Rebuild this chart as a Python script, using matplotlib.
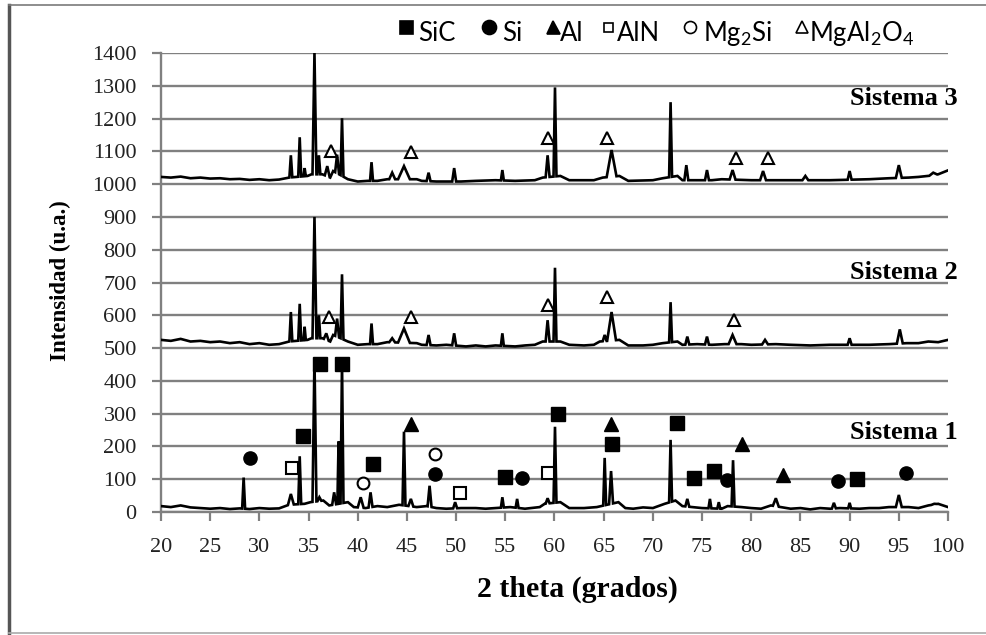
import matplotlib
matplotlib.use('Agg')
import matplotlib.pyplot as plt
import numpy as np
from matplotlib.lines import Line2D

plt.rcParams['font.family'] = ['Liberation Serif', 'DejaVu Serif']
plt.rcParams['mathtext.default'] = 'regular'

# ── data ──────────────────────────────────────────────────────────────────────
# Sistema 1
s1_base_x = [20, 21, 22, 23, 24, 25, 26, 27, 28, 29, 30, 31, 32, 33, 34.6, 35.2, 36.5,
             37.1, 39.0, 39.6, 40.8, 42, 43, 44.2, 46, 47, 48, 49, 50.5, 52, 53, 54,
             55.5, 57, 58.5, 59.0, 60.6, 61.5, 63, 64.3, 66.5, 67.2, 68, 69, 70, 71.2,
             72.3, 73, 74, 75, 77, 77.6, 79, 80, 81, 82, 83, 84, 85, 86, 87, 88, 89,
             91, 92, 93, 94, 96, 97, 98, 99, 100]
s1_base_y = [18, 15, 20, 14, 12, 10, 12, 9, 11, 9, 12, 10, 11, 22, 25, 30, 35,
             20, 30, 15, 12, 18, 15, 22, 15, 18, 12, 10, 12, 12, 10, 12,
             15, 10, 15, 25, 30, 12, 12, 15, 30, 12, 10, 14, 12, 25,
             35, 18, 15, 12, 10, 18, 15, 12, 10, 20, 15, 10, 12, 8, 12, 10, 12,
             10, 12, 12, 15, 15, 12, 20, 25, 15]
s1_pk_x = [28.4, 33.2, 34.1, 35.6, 36.1, 37.6, 38.05, 38.4, 40.3, 41.3, 44.7, 45.4,
           47.3, 49.9, 54.7, 56.2, 59.3, 60.05, 65.1, 65.75, 71.8, 73.5, 75.8, 76.7,
           78.15, 82.5, 88.4, 90.0, 95.0, 98.6]
s1_pk_y = [105, 55, 170, 470, 45, 60, 215, 460, 45, 60, 245, 40,
           80, 30, 45, 40, 42, 260, 165, 125, 220, 40, 40, 30,
           158, 42, 28, 28, 52, 25]
s1_pk_w = [.15, .3, .15, .2, .2, .2, .12, .15, .3, .2, .15, .25,
           .2, .2, .15, .15, .2, .15, .15, .2, .15, .2, .15, .15,
           .15, .3, .2, .15, .3, .3]

# Sistema 2
s2_base_x = [20, 21, 22, 23, 24, 25, 26, 27, 28, 29, 30, 31, 32, 33, 34.9, 35.3, 36.4,
             37.2, 37.5, 39, 40, 41, 42, 43, 46, 46.5, 48, 49, 51, 52, 53, 54, 56, 57,
             58, 58.8, 60.6, 61.5, 63, 64, 64.6, 66.6, 67.5, 69, 70, 71, 72.5, 73,
             74.5, 76, 77.3, 79, 80, 82.5, 84, 86, 88, 92, 94, 95.8, 97, 98, 99, 100]
s2_base_y = [525, 522, 528, 520, 522, 518, 520, 515, 518, 512, 515, 510, 512, 520, 525,
             530, 530, 520, 540, 520, 510, 512, 512, 518, 515, 510, 508, 510, 505, 508,
             505, 508, 505, 508, 510, 520, 520, 510, 508, 510, 520, 525, 508, 508, 510,
             515, 520, 510, 512, 510, 512, 512, 510, 512, 510, 508, 510, 510, 512, 515,
             515, 520, 518, 525]
s2_pk_x = [33.2, 34.1, 34.6, 35.6, 36.05, 36.8, 37.9, 38.4, 41.4, 43.5, 44.7, 47.2,
           49.8, 54.7, 59.3, 60.05, 65.1, 65.8, 71.8, 73.5, 75.5, 78.1, 81.4, 90.0, 95.1]
s2_pk_y = [610, 635, 565, 900, 600, 545, 590, 725, 575, 530, 560, 540,
           545, 545, 585, 745, 540, 610, 640, 535, 535, 540, 525, 530, 557]
s2_pk_w = [.15, .15, .12, .2, .15, .25, .2, .15, .15, .3, .6, .2,
           .2, .15, .2, .15, .2, .45, .15, .2, .2, .4, .3, .2, .3]

# Sistema 3
s3_base_x = [20, 21, 22, 23, 24, 25, 26, 27, 28, 29, 30, 31, 32, 33, 34.9, 35.3, 36.4,
             37.2, 37.5, 39, 40, 41, 42, 43, 46, 46.5, 48, 50.5, 52, 54, 56, 58, 58.8,
             60.6, 61.5, 64, 64.9, 66.6, 67.5, 70, 71, 72.5, 73, 76, 77, 80, 84, 88,
             92, 94, 96, 97, 98, 99, 100]
s3_base_y = [1022, 1020, 1023, 1018, 1020, 1017, 1018, 1015, 1016, 1013, 1015, 1012,
             1014, 1020, 1025, 1030, 1030, 1020, 1040, 1015, 1008, 1010, 1010, 1015,
             1015, 1010, 1008, 1008, 1010, 1012, 1010, 1012, 1020, 1025, 1012, 1012,
             1020, 1025, 1010, 1012, 1018, 1025, 1012, 1012, 1015, 1012, 1012, 1012,
             1015, 1018, 1020, 1022, 1025, 1030, 1042]
s3_pk_x = [33.2, 34.1, 34.6, 35.6, 36.05, 36.9, 37.9, 38.4, 41.4, 43.5, 44.7, 47.2,
           49.8, 54.7, 59.3, 60.05, 65.8, 71.8, 73.4, 75.5, 78.1, 81.2, 85.5, 90.0,
           95.0, 98.5]
s3_pk_y = [1088, 1143, 1049, 1400, 1088, 1055, 1090, 1201, 1067, 1035, 1055, 1035,
           1049, 1043, 1088, 1295, 1104, 1250, 1058, 1043, 1043, 1040, 1025, 1040,
           1058, 1035]
s3_pk_w = [.15, .15, .12, .2, .15, .25, .2, .15, .15, .3, .6, .2,
           .2, .15, .2, .15, .5, .15, .2, .2, .3, .3, .3, .2, .3, .4]

# phase markers
sic_x = [34.4, 36.2, 38.4, 41.6, 55.0, 60.4, 65.8, 72.5, 74.2, 76.2, 90.7]
sic_y = [232, 450, 450, 145, 108, 300, 208, 270, 104, 126, 100]
si_x = [29.0, 47.9, 56.7, 77.5, 88.8, 95.7]
si_y = [165, 116, 104, 98, 95, 120]
al_x = [45.4, 65.7, 79.1, 83.2]
al_y = [268, 268, 207, 113]
aln_x = [33.3, 50.4, 59.3]
aln_y = [135, 58, 118]
mg2si_x = [40.5, 47.9]
mg2si_y = [88, 178]
spinel_x = [37.1, 45.4, 59.3, 65.3, 78.2, 37.3, 45.4, 59.3, 65.3, 78.4, 81.7]
spinel_y = [596, 596, 630, 657, 587, 1102, 1098, 1140, 1140, 1079, 1079]

system_labels = ['Sistema 1', 'Sistema 2', 'Sistema 3']
system_label_y = [244, 729, 1262]

GRID = '#808080'
TICK_C = '#222222'


def pattern(bx, by, px, py, pw):
    """baseline points + one narrow triangle per peak, merged along 2theta"""
    bx = np.asarray(bx, float)
    by = np.asarray(by, float)
    keep = np.ones(len(bx), bool)
    xs, ys = [], []
    for p, h, w in zip(px, py, pw):
        keep &= ~((bx > p - w) & (bx < p + w))
        foot = np.interp([p - w, p + w], bx, by)
        xs += [p - w, p, p + w]
        ys += [foot[0], h, foot[1]]
    xs = np.concatenate([bx[keep], xs])
    ys = np.concatenate([by[keep], ys])
    order = np.argsort(xs, kind='stable')
    return xs[order], ys[order]


fig = plt.figure(figsize=(9.87, 6.35), dpi=100)
ax = fig.add_axes([161 / 987, 1 - 512 / 635, 787 / 987, 459 / 635])

ax.set_xlim(20, 100)
ax.set_ylim(0, 1400)
ax.set_xticks(np.arange(20, 101, 5))
ax.set_yticks(np.arange(0, 1401, 100))
ax.yaxis.grid(True, color=GRID, lw=1.7)
ax.set_axisbelow(True)
for s in ['top', 'right']:
    ax.spines[s].set_visible(False)
for s in ['left', 'bottom']:
    ax.spines[s].set_color(GRID)
    ax.spines[s].set_linewidth(1.7)
ax.tick_params(axis='both', direction='out', length=6.5, width=1.6, color=GRID,
               labelsize=16, labelcolor=TICK_C)
ax.tick_params(axis='y', pad=11)
ax.tick_params(axis='x', pad=12)

for bx, by, px, py, pw in [(s1_base_x, s1_base_y, s1_pk_x, s1_pk_y, s1_pk_w),
                           (s2_base_x, s2_base_y, s2_pk_x, s2_pk_y, s2_pk_w),
                           (s3_base_x, s3_base_y, s3_pk_x, s3_pk_y, s3_pk_w)]:
    x, y = pattern(bx, by, px, py, pw)
    ax.plot(x, y, color='black', lw=1.9, solid_joinstyle='miter', zorder=3)

ms = 9.5
ax.plot(sic_x, sic_y, 's', ms=ms, color='black', ls='none', zorder=4)
ax.plot(si_x, si_y, 'o', ms=ms, color='black', ls='none', zorder=4)
ax.plot(al_x, al_y, '^', ms=ms, color='black', ls='none', zorder=4)
ax.plot(aln_x, aln_y, 's', ms=8, mfc='white', mec='black', mew=1.5, ls='none', zorder=4)
ax.plot(mg2si_x, mg2si_y, 'o', ms=8.5, mfc='white', mec='black', mew=1.5, ls='none', zorder=4)
ax.plot(spinel_x, spinel_y, '^', ms=9, mfc='white', mec='black', mew=1.5, ls='none', zorder=4)

for lab, yy in zip(system_labels, system_label_y):
    ax.text(101, yy, lab, ha='right', va='center', fontsize=19,
            fontweight='bold', clip_on=False)

ax.set_ylabel('Intensidad (u.a.)', fontsize=16.5, fontweight='bold')
ax.yaxis.set_label_coords(-0.114, 0.503)
ax.set_xlabel('2 theta (grados)', fontsize=21.5, fontweight='bold')
ax.xaxis.set_label_coords(0.5286, -0.138)

# legend row drawn along the top
leg = [('s', 'black', 'black', 13, 406, 'SiC', 418),
       ('o', 'black', 'black', 14, 489, 'Si', 502),
       ('^', 'black', 'black', 13, 553, 'Al', 560),
       ('s', 'white', 'black', 9, 608, 'AlN', 617),
       ('o', 'white', 'black', 12, 690, r'Mg$_2$Si', 703),
       ('^', 'white', 'black', 12, 802, r'MgAl$_2$O$_4$', 809)]
for mk, fc, ec, sz, mx, txt, tx in leg:
    fig.add_artist(Line2D([mx / 987], [1 - 27 / 635], marker=mk, ms=sz * 0.72,
                          mfc=fc, mec=ec, mew=1.2, ls='none',
                          transform=fig.transFigure))
    fig.text(tx / 987, 1 - 41 / 635, txt, ha='left', va='baseline',
             fontsize=18.5, family=['Lato', 'DejaVu Sans'])

# outer frame
frame_c = '#7a7a7a'
fig.add_artist(Line2D([9 / 987, 9 / 987], [1 - 5 / 635, 1 - 633 / 635],
                      color='#555555', lw=2.5, transform=fig.transFigure))
fig.add_artist(Line2D([9 / 987, 1.0], [1 - 5 / 635, 1 - 5 / 635],
                      color=frame_c, lw=1.2, transform=fig.transFigure))
fig.add_artist(Line2D([9 / 987, 1.0], [1 - 633 / 635, 1 - 633 / 635],
                      color='#aaaaaa', lw=1.2, transform=fig.transFigure))

fig.savefig('out.png', dpi=100, facecolor='white')
